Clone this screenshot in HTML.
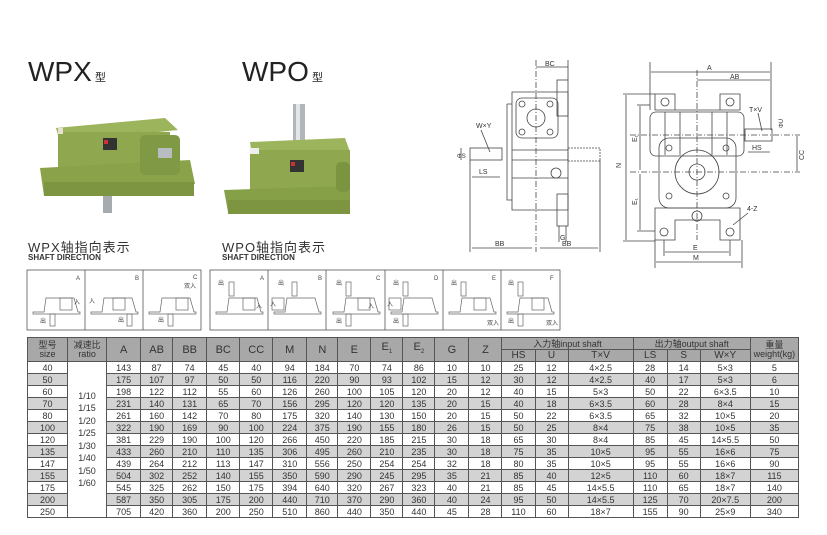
<!DOCTYPE html>
<html><head><meta charset="utf-8"><style>
body{margin:0;width:827px;height:535px;background:#fff;position:relative;overflow:hidden;font-family:"Liberation Sans","Noto Sans CJK SC",sans-serif}
.a{position:absolute}
table{position:absolute;left:27px;top:337px;border-collapse:collapse;table-layout:fixed;width:772px}
td{border:1px solid #555;padding:0;text-align:center;font-size:9px;color:#333;height:11px;line-height:10px;white-space:nowrap;overflow:hidden}
tr.h td{background:#a8a8a8;color:#333}
tr.g td{background:#d3d3d3}
td.w{background:#fff!important}
</style></head><body>
<div class="a" style="left:28px;top:56px;font-size:28px;color:#222">WPX<span style="font-size:11px"> 型</span></div>
<div class="a" style="left:242px;top:56px;font-size:28px;color:#222">WPO<span style="font-size:11px"> 型</span></div>

<svg class="a" style="left:0;top:0" width="827" height="335">
<!-- WPX photo -->
<g>
<polygon points="56,128 165,118 178,130 60,142" fill="#9cb45c"/>
<rect x="58" y="132" width="112" height="60" fill="#8fa74e"/>
<polygon points="40,168 190,160 195,184 44,196" fill="#8aa24a"/>
<rect x="44" y="182" width="150" height="14" fill="#7d9541"/>
<rect x="140" y="135" width="40" height="40" rx="5" fill="#7f9944"/>
<rect x="103" y="138" width="14" height="12" fill="#333"/><rect x="104" y="140" width="4" height="4" fill="#c33"/>
<rect x="158" y="148" width="14" height="10" fill="#b9bdc2"/>
<rect x="103" y="196" width="9" height="17" fill="#a6abb0"/>
<rect x="58" y="128" width="5" height="6" fill="#e8e0d0"/>
</g>
<!-- WPO photo -->
<g>
<rect x="293" y="104" width="12" height="38" fill="#b1b6bb"/><rect x="296" y="104" width="4" height="38" fill="#e3e5e7"/>
<polygon points="250,142 345,138 350,152 252,156" fill="#9cb45c"/>
<rect x="250" y="150" width="100" height="55" fill="#8fa74e"/>
<polygon points="224,190 350,186 350,206 228,212" fill="#86a047"/>
<rect x="228" y="200" width="122" height="14" fill="#7d9541"/>
<rect x="290" y="160" width="14" height="12" fill="#333"/><rect x="291" y="162" width="4" height="4" fill="#c33"/>
<rect x="250" y="148" width="9" height="6" fill="#eee"/>
<rect x="336" y="162" width="14" height="30" rx="5" fill="#7a9440"/>
</g>
<!-- side view -->
<g fill="none" stroke="#444" stroke-width="0.8">
<line x1="536" y1="60" x2="536" y2="252" stroke-dasharray="6,2,1,2"/>
<line x1="536" y1="67" x2="568" y2="67"/><line x1="568" y1="60" x2="568" y2="80"/>
<path d="M512,92 L568,92 L568,210 L512,210 Z"/>
<path d="M507,104 L512,104 M507,104 L507,200 L512,200"/>
<rect x="516" y="98" width="42" height="40" rx="6"/>
<circle cx="536" cy="118" r="9"/><circle cx="522" cy="104" r="3"/><circle cx="550" cy="104" r="3"/><circle cx="522" cy="132" r="3"/><circle cx="550" cy="132" r="3"/>
<rect x="557" y="80" width="11" height="36"/><rect x="557" y="194" width="11" height="32"/>
<line x1="512" y1="150" x2="568" y2="150"/><line x1="512" y1="160" x2="568" y2="160"/><line x1="512" y1="178" x2="568" y2="178"/>
<circle cx="556" cy="173" r="5"/>
<rect x="470" y="148" width="32" height="12"/>
<rect x="568" y="148" width="32" height="13" stroke-dasharray="2,1"/>
<line x1="470" y1="160" x2="470" y2="252"/><line x1="600" y1="160" x2="600" y2="252"/>
<line x1="472" y1="248" x2="532" y2="248"/><line x1="540" y1="248" x2="598" y2="248"/>
<line x1="472" y1="177" x2="500" y2="177"/>
<line x1="461" y1="148" x2="461" y2="160"/>
<line x1="481" y1="130" x2="490" y2="152"/>
<line x1="559" y1="226" x2="559" y2="242"/><line x1="566" y1="226" x2="566" y2="242"/>
</g>
<g font-size="7" fill="#333">
<text x="545" y="66">BC</text><text x="476" y="128">W×Y</text><text x="479" y="174">LS</text>
<text x="495" y="246">BB</text><text x="562" y="246">BB</text><text x="560" y="240">G</text>
<text x="457" y="158" font-size="6">ΦS</text>
</g>
<!-- front view -->
<g fill="none" stroke="#444" stroke-width="0.8">
<line x1="650" y1="62" x2="650" y2="110"/><line x1="771" y1="62" x2="771" y2="130"/>
<line x1="651" y1="72" x2="770" y2="72"/><line x1="697" y1="80" x2="770" y2="80"/>
<line x1="697" y1="70" x2="697" y2="240" stroke-dasharray="6,2,1,2"/>
<path d="M655,94 L675,94 L675,110 L720,110 L720,94 L740,94 L740,110 L655,110 Z"/>
<circle cx="665" cy="102" r="4"/><circle cx="730" cy="102" r="4"/>
<rect x="650" y="112" width="94" height="44" rx="6"/>
<line x1="665" y1="112" x2="665" y2="155"/><line x1="680" y1="112" x2="680" y2="155"/><line x1="712" y1="112" x2="712" y2="155"/><line x1="727" y1="112" x2="727" y2="155"/>
<rect x="659" y="138" width="77" height="70" rx="10"/>
<circle cx="697" cy="172" r="22"/><circle cx="697" cy="172" r="8"/>
<circle cx="669" cy="148" r="3"/><circle cx="726" cy="148" r="3"/><circle cx="669" cy="196" r="3"/><circle cx="726" cy="196" r="3"/>
<path d="M655,208 L740,208 L740,240 L720,240 L720,220 L675,220 L675,240 L655,240 Z"/>
<circle cx="664" cy="232" r="4"/><circle cx="730" cy="232" r="4"/><circle cx="697" cy="216" r="5"/>
<rect x="745" y="129" width="27" height="12"/>
<line x1="630" y1="135" x2="800" y2="135" stroke-dasharray="6,2,1,2"/>
<line x1="630" y1="172" x2="800" y2="172" stroke-dasharray="6,2,1,2"/>
<line x1="623" y1="94" x2="655" y2="94"/><line x1="623" y1="241" x2="655" y2="241"/>
<line x1="626" y1="95" x2="626" y2="240"/>
<line x1="637" y1="105" x2="650" y2="105"/><line x1="640" y1="106" x2="640" y2="170"/><line x1="640" y1="174" x2="640" y2="230"/><line x1="637" y1="231" x2="655" y2="231"/>
<line x1="664" y1="240" x2="664" y2="256"/><line x1="730" y1="240" x2="730" y2="256"/>
<line x1="665" y1="252" x2="729" y2="252"/>
<line x1="655" y1="240" x2="655" y2="268"/><line x1="742" y1="240" x2="742" y2="268"/>
<line x1="656" y1="262" x2="741" y2="262"/>
<line x1="797" y1="136" x2="797" y2="171"/><line x1="748" y1="152" x2="770" y2="152"/>
<line x1="758" y1="113" x2="762" y2="131"/><line x1="733" y1="225" x2="748" y2="213"/>
</g>
<g font-size="7" fill="#333">
<text x="707" y="70">A</text><text x="730" y="79">AB</text><text x="749" y="112">T×V</text>
<text x="752" y="150">HS</text><text x="747" y="211">4-Z</text><text x="693" y="250">E</text><text x="693" y="260">M</text>
<text transform="translate(621,168) rotate(-90)">N</text><text transform="translate(637,142) rotate(-90)">E₁</text><text transform="translate(637,205) rotate(-90)">E₁</text>
<text transform="translate(804,160) rotate(-90)">CC</text><text transform="translate(783,128) rotate(-90)" font-size="6">ΦU</text>
</g>
<!-- shaft direction boxes -->
<g fill="none" stroke="#555" stroke-width="0.8">
<rect x="27" y="270" width="174" height="60"/><line x1="85" y1="270" x2="85" y2="330"/><line x1="143" y1="270" x2="143" y2="330"/>
<rect x="210" y="270" width="350" height="60"/>
<line x1="268" y1="270" x2="268" y2="330"/><line x1="326" y1="270" x2="326" y2="330"/><line x1="385" y1="270" x2="385" y2="330"/><line x1="443" y1="270" x2="443" y2="330"/><line x1="501" y1="270" x2="501" y2="330"/>
</g>
<g fill="none" stroke="#666" stroke-width="0.7">
<path id="m" d="M33,312 L44,312 L46,298 L74,298 L78,312 L80,312 L80,314 L33,314 Z"/>
<use href="#m" x="58"/><use href="#m" x="116"/><use href="#m" x="183"/><use href="#m" x="241"/><use href="#m" x="300"/><use href="#m" x="358"/><use href="#m" x="416"/><use href="#m" x="474"/>
<rect x="60" y="298" width="12" height="12"/><rect x="113" y="298" width="12" height="12"/><rect x="176" y="298" width="12" height="12"/>
<rect x="243" y="298" width="12" height="12"/><rect x="272" y="298" width="12" height="12"/><rect x="358" y="298" width="12" height="12"/><rect x="389" y="298" width="12" height="12"/><rect x="474" y="298" width="12" height="12"/><rect x="532" y="298" width="12" height="12"/>
<rect x="50" y="314" width="5" height="12"/><rect x="127" y="314" width="5" height="12"/><rect x="168" y="314" width="5" height="12"/>
<rect x="229" y="282" width="5" height="14"/><rect x="292" y="282" width="5" height="14"/><rect x="346" y="282" width="5" height="14"/><rect x="403" y="282" width="5" height="14"/><rect x="461" y="282" width="5" height="14"/><rect x="518" y="282" width="5" height="14"/>
<rect x="346" y="314" width="5" height="12"/><rect x="403" y="314" width="5" height="12"/><rect x="518" y="314" width="5" height="12"/>
</g>
<g font-size="6" fill="#444">
<text x="76" y="280">A</text><text x="135" y="280">B</text><text x="193" y="279">C</text><text x="184" y="288">双入</text>
<text x="74" y="304">入</text><text x="89" y="303">入</text><text x="40" y="323">出</text><text x="118" y="322">出</text><text x="158" y="322">出</text>
<text x="260" y="280">A</text><text x="318" y="280">B</text><text x="376" y="280">C</text><text x="434" y="280">D</text><text x="492" y="280">E</text><text x="550" y="280">F</text>
<text x="218" y="285">出</text><text x="278" y="285">出</text><text x="336" y="285">出</text><text x="393" y="285">出</text><text x="451" y="285">出</text><text x="508" y="285">出</text>
<text x="256" y="308">入</text><text x="270" y="306">入</text><text x="368" y="308">入</text><text x="387" y="306">入</text><text x="487" y="325">双入</text><text x="546" y="325">双入</text>
<text x="336" y="323">出</text><text x="393" y="323">出</text><text x="508" y="323">出</text>
</g>
</svg>
<div class="a" style="left:28px;top:237px;font-size:13px;color:#333;letter-spacing:1px">WPX轴指向表示</div>
<div class="a" style="left:28px;top:253px;font-size:8px;font-weight:bold;color:#333">SHAFT DIRECTION</div>
<div class="a" style="left:222px;top:237px;font-size:13px;color:#333;letter-spacing:1px">WPO轴指向表示</div>
<div class="a" style="left:222px;top:253px;font-size:8px;font-weight:bold;color:#333">SHAFT DIRECTION</div>

<table>
<colgroup><col style="width:40px"><col style="width:39px"><col style="width:34px"><col style="width:32px"><col style="width:34px"><col style="width:33px"><col style="width:33px"><col style="width:34px"><col style="width:31px"><col style="width:33px"><col style="width:32px"><col style="width:32px"><col style="width:34px"><col style="width:33px"><col style="width:33px"><col style="width:33px"><col style="width:65px"><col style="width:34px"><col style="width:33px"><col style="width:50px"><col style="width:48px"></colgroup>
<tr class="h"><td rowspan="2" style="line-height:9px">型号<br>size</td><td rowspan="2" style="line-height:9px">减速比<br>ratio</td><td rowspan="2" style="font-size:11px">A</td><td rowspan="2" style="font-size:11px">AB</td><td rowspan="2" style="font-size:11px">BB</td><td rowspan="2" style="font-size:11px">BC</td><td rowspan="2" style="font-size:11px">CC</td><td rowspan="2" style="font-size:11px">M</td><td rowspan="2" style="font-size:11px">N</td><td rowspan="2" style="font-size:11px">E</td><td rowspan="2" style="font-size:11px">E<sub style="font-size:6px">1</sub></td><td rowspan="2" style="font-size:11px">E<sub style="font-size:6px">2</sub></td><td rowspan="2" style="font-size:11px">G</td><td rowspan="2" style="font-size:11px">Z</td><td colspan="3">入力轴input shaft</td><td colspan="3">出力轴output shaft</td><td rowspan="2" style="line-height:9px">重量<br>weight(kg)</td></tr>
<tr class="h"><td style="font-size:10px">HS</td><td style="font-size:10px">U</td><td style="font-size:10px">T×V</td><td style="font-size:10px">LS</td><td style="font-size:10px">S</td><td style="font-size:10px">W×Y</td></tr>
<tr><td>40</td><td class="w" rowspan="13" style="line-height:12.5px;vertical-align:middle">1/10<br>1/15<br>1/20<br>1/25<br>1/30<br>1/40<br>1/50<br>1/60</td><td>143</td><td>87</td><td>74</td><td>45</td><td>40</td><td>94</td><td>184</td><td>70</td><td>74</td><td>86</td><td>10</td><td>10</td><td>25</td><td>12</td><td>4×2.5</td><td>28</td><td>14</td><td>5×3</td><td>5</td></tr>
<tr class="g"><td>50</td><td>175</td><td>107</td><td>97</td><td>50</td><td>50</td><td>116</td><td>220</td><td>90</td><td>93</td><td>102</td><td>15</td><td>12</td><td>30</td><td>12</td><td>4×2.5</td><td>40</td><td>17</td><td>5×3</td><td>6</td></tr>
<tr><td>60</td><td>198</td><td>122</td><td>112</td><td>55</td><td>60</td><td>126</td><td>260</td><td>100</td><td>105</td><td>120</td><td>20</td><td>12</td><td>40</td><td>15</td><td>5×3</td><td>50</td><td>22</td><td>6×3.5</td><td>10</td></tr>
<tr class="g"><td>70</td><td>231</td><td>140</td><td>131</td><td>65</td><td>70</td><td>156</td><td>295</td><td>120</td><td>120</td><td>135</td><td>20</td><td>15</td><td>40</td><td>18</td><td>6×3.5</td><td>60</td><td>28</td><td>8×4</td><td>15</td></tr>
<tr><td>80</td><td>261</td><td>160</td><td>142</td><td>70</td><td>80</td><td>175</td><td>320</td><td>140</td><td>130</td><td>150</td><td>20</td><td>15</td><td>50</td><td>22</td><td>6×3.5</td><td>65</td><td>32</td><td>10×5</td><td>20</td></tr>
<tr class="g"><td>100</td><td>322</td><td>190</td><td>169</td><td>90</td><td>100</td><td>224</td><td>375</td><td>190</td><td>155</td><td>180</td><td>26</td><td>15</td><td>50</td><td>25</td><td>8×4</td><td>75</td><td>38</td><td>10×5</td><td>35</td></tr>
<tr><td>120</td><td>381</td><td>229</td><td>190</td><td>100</td><td>120</td><td>266</td><td>450</td><td>220</td><td>185</td><td>215</td><td>30</td><td>18</td><td>65</td><td>30</td><td>8×4</td><td>85</td><td>45</td><td>14×5.5</td><td>50</td></tr>
<tr class="g"><td>135</td><td>433</td><td>260</td><td>210</td><td>110</td><td>135</td><td>306</td><td>495</td><td>260</td><td>210</td><td>235</td><td>30</td><td>18</td><td>75</td><td>35</td><td>10×5</td><td>95</td><td>55</td><td>16×6</td><td>75</td></tr>
<tr><td>147</td><td>439</td><td>264</td><td>212</td><td>113</td><td>147</td><td>310</td><td>556</td><td>250</td><td>254</td><td>254</td><td>32</td><td>18</td><td>80</td><td>35</td><td>10×5</td><td>95</td><td>55</td><td>16×6</td><td>90</td></tr>
<tr class="g"><td>155</td><td>504</td><td>302</td><td>252</td><td>140</td><td>155</td><td>350</td><td>590</td><td>290</td><td>245</td><td>295</td><td>35</td><td>21</td><td>85</td><td>40</td><td>12×5</td><td>110</td><td>60</td><td>18×7</td><td>115</td></tr>
<tr><td>175</td><td>545</td><td>325</td><td>262</td><td>150</td><td>175</td><td>394</td><td>640</td><td>320</td><td>267</td><td>323</td><td>40</td><td>21</td><td>85</td><td>45</td><td>14×5.5</td><td>110</td><td>65</td><td>18×7</td><td>140</td></tr>
<tr class="g"><td>200</td><td>587</td><td>350</td><td>305</td><td>175</td><td>200</td><td>440</td><td>710</td><td>370</td><td>290</td><td>360</td><td>40</td><td>24</td><td>95</td><td>50</td><td>14×5.5</td><td>125</td><td>70</td><td>20×7.5</td><td>200</td></tr>
<tr><td>250</td><td>705</td><td>420</td><td>360</td><td>200</td><td>250</td><td>510</td><td>860</td><td>440</td><td>350</td><td>440</td><td>45</td><td>28</td><td>110</td><td>60</td><td>18×7</td><td>155</td><td>90</td><td>25×9</td><td>340</td></tr>
</table>
</body></html>
